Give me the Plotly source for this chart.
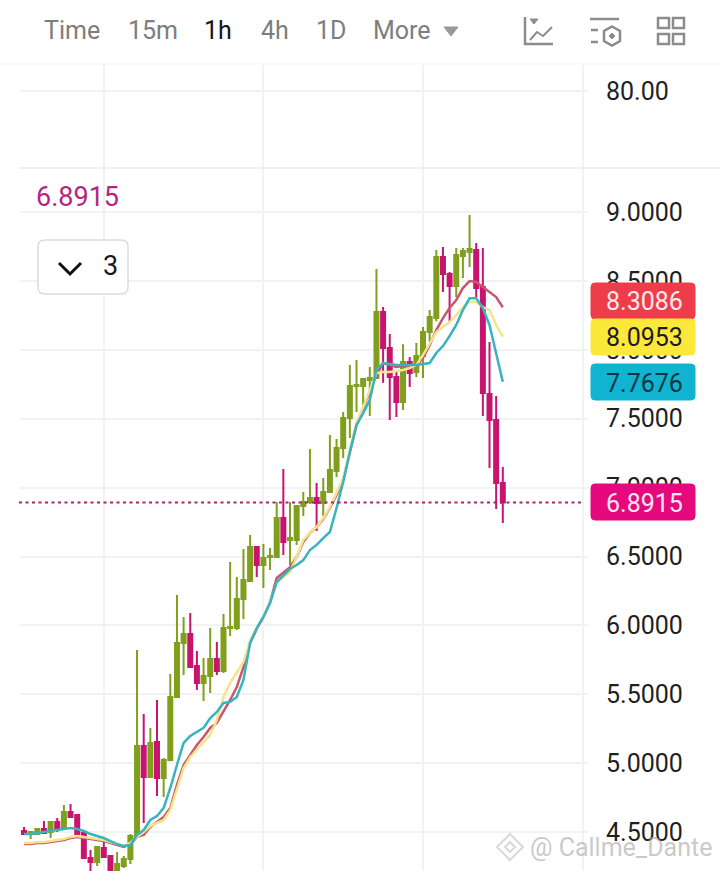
import plotly.graph_objects as go

# 1h candles
opens = [4.508, 4.486, 4.486, 4.522, 4.501, 4.573, 4.530, 4.646, 4.624, 4.493,
         4.312, 4.283, 4.385, 4.327, 4.167, 4.254, 4.305, 4.472, 5.125, 4.900,
         5.154, 4.893, 5.023, 5.481, 5.872, 5.937, 5.705, 5.582, 5.633, 5.756,
         5.669, 5.981, 5.981, 6.191, 6.322, 6.569, 6.438, 6.496, 6.496, 6.779,
         6.620, 6.620, 6.866, 6.895, 6.925, 6.888, 6.968, 7.120, 7.287, 7.505,
         7.738, 7.738, 7.781, 7.796, 8.274, 8.013, 7.803, 7.621, 7.911, 7.839,
         7.955, 8.129, 8.230, 8.673, 8.550, 8.463, 8.681, 8.710, 8.724, 8.456,
         7.680, 7.491, 7.033]
highs = [4.537, 4.508, 4.530, 4.581, 4.581, 4.602, 4.697, 4.704, 4.631, 4.493,
         4.370, 4.399, 4.428, 4.334, 4.356, 4.327, 4.486, 5.821, 5.357, 5.256,
         5.459, 5.037, 5.648, 6.220, 6.061, 6.090, 5.814, 5.763, 5.981, 5.879,
         6.082, 6.460, 6.351, 6.554, 6.656, 6.569, 6.591, 6.562, 6.895, 7.135,
         6.895, 6.874, 6.968, 7.280, 7.033, 7.070, 7.382, 7.353, 7.549, 7.889,
         7.926, 7.796, 7.875, 8.586, 8.310, 8.114, 7.839, 8.041, 7.947, 8.049,
         8.165, 8.288, 8.724, 8.746, 8.565, 8.739, 8.739, 8.978, 8.775, 8.739,
         8.056, 7.665, 7.149]
lows = [4.479, 4.450, 4.479, 4.486, 4.457, 4.501, 4.522, 4.602, 4.479, 4.305,
        4.218, 4.254, 4.312, 4.116, 4.116, 4.240, 4.269, 4.465, 4.566, 4.893,
        4.762, 4.755, 5.015, 5.473, 5.640, 5.698, 5.531, 5.452, 5.510, 5.640,
        5.655, 5.923, 5.966, 6.046, 6.322, 6.351, 6.271, 6.402, 6.489, 6.511,
        6.438, 6.584, 6.794, 6.881, 6.685, 6.794, 6.968, 7.077, 7.214, 7.360,
        7.549, 7.600, 7.520, 7.796, 7.760, 7.491, 7.512, 7.563, 7.730, 7.803,
        7.796, 8.056, 8.208, 8.420, 8.208, 8.383, 8.521, 8.601, 8.383, 7.520,
        7.143, 6.845, 6.743]
closes = [4.486, 4.501, 4.522, 4.493, 4.573, 4.530, 4.646, 4.610, 4.486, 4.312,
          4.283, 4.392, 4.320, 4.152, 4.269, 4.305, 4.472, 5.125, 4.900, 5.147,
          4.893, 5.023, 5.481, 5.872, 5.937, 5.698, 5.582, 5.633, 5.756, 5.669,
          5.981, 5.988, 6.191, 6.329, 6.569, 6.438, 6.489, 6.503, 6.779, 6.605,
          6.634, 6.866, 6.895, 6.925, 6.888, 6.968, 7.128, 7.287, 7.505, 7.738,
          7.745, 7.788, 7.796, 8.274, 8.013, 7.803, 7.621, 7.911, 7.831, 7.955,
          8.129, 8.238, 8.673, 8.550, 8.463, 8.688, 8.717, 8.732, 8.448, 7.687,
          7.491, 7.033, 6.8915]

# moving averages
ma_red = [4.413, 4.413, 4.421, 4.421, 4.428, 4.435, 4.443, 4.457, 4.465, 4.457,
          4.450, 4.443, 4.435, 4.421, 4.406, 4.392, 4.413, 4.465, 4.479, 4.537,
          4.573, 4.610, 4.675, 4.842, 4.987, 5.059, 5.132, 5.190, 5.256, 5.292,
          5.372, 5.459, 5.553, 5.698, 5.872, 5.974, 6.061, 6.170, 6.344, 6.387,
          6.423, 6.496, 6.605, 6.670, 6.714, 6.772, 6.852, 6.946, 7.055, 7.258,
          7.454, 7.578, 7.694, 7.817, 7.904, 7.889, 7.875, 7.882, 7.882, 7.882,
          7.941, 8.034, 8.143, 8.230, 8.303, 8.361, 8.448, 8.499, 8.492, 8.456,
          8.420, 8.383, 8.3086]
ma_yellow = [4.421, 4.421, 4.428, 4.428, 4.435, 4.443, 4.450, 4.465, 4.472, 4.465,
             4.457, 4.450, 4.443, 4.428, 4.413, 4.399, 4.421, 4.465, 4.501, 4.544,
             4.566, 4.588, 4.660, 4.806, 4.965, 5.045, 5.096, 5.154, 5.205, 5.314,
             5.481, 5.582, 5.662, 5.735, 5.894, 5.981, 6.068, 6.170, 6.307, 6.351,
             6.387, 6.496, 6.620, 6.670, 6.714, 6.779, 6.859, 6.961, 7.070, 7.273,
             7.469, 7.585, 7.709, 7.831, 7.839, 7.839, 7.846, 7.854, 7.868, 7.889,
             7.962, 8.049, 8.129, 8.165, 8.201, 8.252, 8.310, 8.346, 8.346, 8.310,
             8.288, 8.180, 8.0953]
ma_teal = [4.486, 4.486, 4.493, 4.501, 4.508, 4.515, 4.522, 4.530, 4.522, 4.508,
           4.486, 4.472, 4.457, 4.435, 4.413, 4.399, 4.406, 4.479, 4.515, 4.588,
           4.617, 4.675, 4.820, 4.987, 5.147, 5.198, 5.227, 5.256, 5.328, 5.372,
           5.437, 5.445, 5.481, 5.604, 5.872, 5.981, 6.061, 6.162, 6.315, 6.365,
           6.409, 6.438, 6.474, 6.547, 6.584, 6.634, 6.678, 6.852, 7.041, 7.258,
           7.454, 7.541, 7.636, 7.854, 7.904, 7.897, 7.889, 7.889, 7.889, 7.889,
           7.897, 7.904, 7.977, 8.027, 8.100, 8.180, 8.288, 8.375, 8.375, 8.303,
           8.180, 7.962, 7.7676]

price_ticks = [4.5, 5.0, 5.5, 6.0, 6.5, 7.0, 7.5, 8.0, 8.5, 9.0]
grid_x = [12, 36, 60, 84]
last_price = 6.8915
intervals = ["Time", "15m", "1h", "4h", "1D", "More"]
badge_labels = ["8.3086", "8.0953", "7.7676", "6.8915"]

W, H = 720, 871
L, R, T, B = 20, 588, 65, 871
GRID = "#f2f2f2"
FONT = "Roboto"


# page pixels to paper coordinates, the header and badges sit outside the plot
def px(x):
    return (x - L) / (R - L)


def py(y):
    return 1 - (y - T) / (B - T)


def pen(color, width=2.5):
    return dict(color=color, width=width)


def line(x0, y0, x1, y1, color="#8c8c8c", width=2.5):
    return dict(type="line", xref="paper", yref="paper", x0=px(x0), y0=py(y0),
                x1=px(x1), y1=py(y1), line=pen(color, width), layer="above")


def rect(x0, y0, x1, y1, fill=None, color="#8c8c8c", width=2.5, r=0):
    if r:
        d = (f"M {px(x0 + r)} {py(y0)} L {px(x1 - r)} {py(y0)} Q {px(x1)} {py(y0)} {px(x1)} {py(y0 + r)} "
             f"L {px(x1)} {py(y1 - r)} Q {px(x1)} {py(y1)} {px(x1 - r)} {py(y1)} "
             f"L {px(x0 + r)} {py(y1)} Q {px(x0)} {py(y1)} {px(x0)} {py(y1 - r)} "
             f"L {px(x0)} {py(y0 + r)} Q {px(x0)} {py(y0)} {px(x0 + r)} {py(y0)} Z")
    else:
        d = f"M {px(x0)} {py(y0)} L {px(x1)} {py(y0)} L {px(x1)} {py(y1)} L {px(x0)} {py(y1)} Z"
    return dict(type="path", xref="paper", yref="paper", path=d, fillcolor=fill or "rgba(0,0,0,0)",
                line=pen(color, width), layer="above")


def poly(points, fill=None, color="#8c8c8c", width=2.5, close=True):
    d = "M " + " L ".join(f"{px(x)} {py(y)}" for x, y in points) + (" Z" if close else "")
    return dict(type="path", xref="paper", yref="paper", path=d, fillcolor=fill or "rgba(0,0,0,0)",
                line=pen(color, width), layer="above")


def text(s, x, y, color, size=25, anchor="left"):
    return dict(text=s, xref="paper", yref="paper", x=px(x), y=py(y), xanchor=anchor, yanchor="middle",
                showarrow=False, borderpad=0, font=dict(family=FONT, size=size, color=color))


idx = list(range(len(closes)))

fig = go.Figure()
fig.add_trace(go.Scatter(x=idx, y=ma_red, mode="lines", line=dict(color="#c9566a", width=2.5), hoverinfo="skip"))
fig.add_trace(go.Scatter(x=idx, y=ma_yellow, mode="lines", line=dict(color="#f4e48c", width=2.5), hoverinfo="skip"))
fig.add_trace(go.Scatter(x=idx, y=ma_teal, mode="lines", line=dict(color="#36b4bf", width=2.5), hoverinfo="skip"))
fig.add_trace(go.Candlestick(
    x=idx, open=opens, high=highs, low=lows, close=closes,
    whiskerwidth=0,
    increasing=dict(line=dict(color="#7f9f1d", width=2), fillcolor="#7f9f1d"),
    decreasing=dict(line=dict(color="#c9146f", width=2), fillcolor="#c9146f"),
))
# top pane only carries the 80.00 grid line
fig.add_trace(go.Scatter(x=[], y=[], xaxis="x2", yaxis="y2", hoverinfo="skip"))

split = py(168)
x_range = [(L - 24) / 6.65, (R - 24) / 6.65]
axis_x = dict(range=x_range, tickmode="array", tickvals=grid_x, showticklabels=False, ticks="",
              showgrid=True, gridcolor=GRID, gridwidth=1.5, zeroline=False, showline=False, fixedrange=True)

shapes = [
    line(0, 64, 720, 64, "#f6f6f6", 1.5),
    line(19, 168, 720, 168, "#ececec", 1.5),
    dict(type="line", xref="paper", yref="y", x0=px(19), x1=px(583), y0=last_price, y1=last_price,
         line=dict(color="#a8246f", width=2, dash="3px,3.5px"), layer="above"),
    # header icons
    poly([(525, 17), (525, 44), (553, 44)], close=False),
    poly([(530, 40), (537, 32), (543, 36), (552, 27)], close=False, width=2),
    poly([(530, 19), (538, 19), (534, 24)], fill="#8c8c8c", width=1),
    line(590, 19, 619, 19),
    line(591, 30, 598, 30),
    line(591, 42, 598, 42),
    poly([(612, 26.5), (620, 31), (620, 41), (612, 45.5), (604, 41), (604, 31)]),
    poly([(612, 33), (615, 36), (612, 39), (609, 36)], fill="#8c8c8c", width=1),
    rect(658, 18, 669, 28),
    rect(673, 18, 684, 28),
    rect(658, 34, 669, 44),
    rect(673, 34, 684, 44),
    poly([(444, 27), (458, 27), (451, 36)], fill="#999999", color="#999999", width=1),
    # collapsed indicator box
    rect(38, 240, 128, 294, fill="white", color="#dcdcdc", width=1.5, r=7),
    poly([(59, 263), (70, 274), (81, 263)], color="#111111", width=3, close=False),
    # last value badges
    rect(591, 283, 695, 319, fill="#ee3d4a", color="#ee3d4a", width=1, r=4),
    rect(591, 319, 695, 355, fill="#fce83a", color="#fce83a", width=1, r=4),
    rect(591, 364, 695, 400, fill="#10b4d0", color="#10b4d0", width=1, r=4),
    rect(591, 484, 695, 520, fill="#e6097d", color="#e6097d", width=1, r=4),
    # watermark logo
    poly([(510, 834), (523, 847), (510, 860), (497, 847)], color="#d9d9d9", width=2),
    poly([(510, 842), (515, 847), (510, 852), (505, 847)], color="#d9d9d9", width=2),
]

annotations = [
    text(intervals[0], 43, 31, "#7d7d7d", 25),
    text(intervals[1], 127, 31, "#7d7d7d", 25),
    text(intervals[2], 203, 31, "#141414", 25),
    text(intervals[3], 260, 31, "#7d7d7d", 25),
    text(intervals[4], 315, 31, "#7d7d7d", 25),
    text(intervals[5], 372, 31, "#7d7d7d", 25),
    text(f"{last_price:.4f}", 35, 197, "#b5257f", 27),
    text("3", 102, 266, "#1a1a1a", 27),
    text(badge_labels[0], 605, 302, "#fdeaea"),
    text(badge_labels[1], 605, 338, "#1c1c1c"),
    text(badge_labels[2], 605, 383, "#0c3640"),
    text(badge_labels[3], 605, 503, "#fde6f2"),
    text("@ Callme_Dante", 529, 847, "rgba(165,165,165,0.6)", 25),
]

fig.update_layout(
    width=W, height=H,
    margin=dict(l=L, r=W - R, t=T, b=H - B, autoexpand=False),
    paper_bgcolor="white", plot_bgcolor="white",
    showlegend=False,
    hovermode=False,
    boxgap=0.4,
    boxgroupgap=0,
    xaxis=dict(axis_x, domain=[0, 1], anchor="y", rangeslider=dict(visible=False)),
    yaxis=dict(domain=[0, split], range=[9 - (B - 212) / 137.8, 9 + (212 - 168) / 137.8],
               side="right", anchor="x", tickmode="array", tickvals=price_ticks, tickformat=".4f",
               tickfont=dict(family=FONT, size=25, color="#1f1f1f"), ticks="", ticklabelstandoff=17,
               showgrid=True, gridcolor=GRID, gridwidth=1.5, zeroline=False, showline=False, fixedrange=True),
    xaxis2=dict(axis_x, domain=[0, 1], anchor="y2"),
    yaxis2=dict(domain=[split, 1], range=[80 - 77 / 3.85, 80 + 26 / 3.85],
                side="right", anchor="x2", tickmode="array", tickvals=[80], tickformat=".2f",
                tickfont=dict(family=FONT, size=25, color="#1f1f1f"), ticks="", ticklabelstandoff=17,
                showgrid=True, gridcolor=GRID, gridwidth=1.5, zeroline=False, showline=False, fixedrange=True),
    shapes=shapes,
    annotations=annotations,
)

fig.write_html("out.html", config=dict(displayModeBar=False),
               post_script="document.body.style.margin='0';document.body.style.overflow='hidden';")
